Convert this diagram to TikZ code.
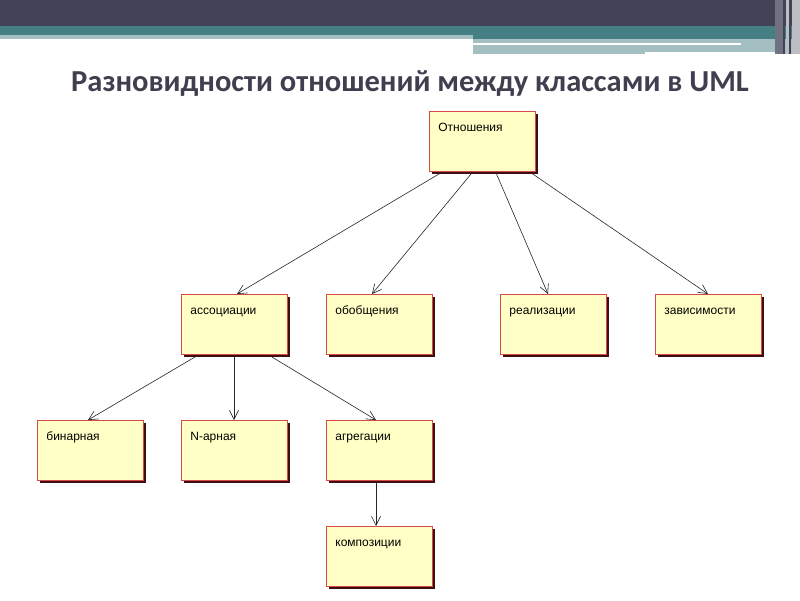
\documentclass[tikz,border=0pt]{standalone}
\usepackage{fontspec}
\setmainfont{Liberation Sans}
\newfontfamily\titlefont{Carlito}
\usetikzlibrary{arrows.meta,calc}
\definecolor{hdark}{HTML}{424357}
\definecolor{hteal}{HTML}{467F83}
\definecolor{hlight}{HTML}{A4BFC1}
\definecolor{boxfill}{HTML}{FFFFC6}
\definecolor{boxline}{HTML}{D84848}
\definecolor{boxshadow}{HTML}{3A1010}
\definecolor{titlec}{HTML}{3F3F50}
\tikzset{
  umlbox/.style={draw=boxline, line width=0.8pt, fill=boxfill, anchor=north west,
    text width=88pt, align=left, inner xsep=9pt, inner ysep=5pt,
    text height=15pt, text depth=35pt, font=\fontsize{12}{14}\selectfont,
    preaction={fill=boxshadow, transform canvas={shift={(3pt,-3pt)}}}},
  rel/.style={draw=black!85, line width=0.6pt, -{Straight Barb[length=9pt,width=9pt]}}
}
\begin{document}
\begin{tikzpicture}[x=1pt,y=-1pt]
\useasboundingbox (0,0) rectangle (800,600);
% header
\fill[white] (0,0) rectangle (800,600);
\fill[hdark] (0,0) rectangle (800,26);
\fill[hteal] (0,26) rectangle (800,35);
\fill[hteal] (473,35) rectangle (800,39);
\fill[hlight] (0,35) rectangle (473,39);
\fill[hlight] (473,39) rectangle (800,54);
\fill[white] (473,43) rectangle (741,45);
\fill[white] (645,52) rectangle (785,54);
\fill[hdark!75] (775,0) rectangle (783,54);
\fill[hdark] (783,0) rectangle (785,54);
\fill[hdark!35] (786,0) rectangle (789,54);
\fill[hdark] (789,0) rectangle (791,54);
\fill[hdark!35] (792,0) rectangle (800,54);
% title
\node[font=\titlefont\bfseries\fontsize{30.5}{34}\selectfont, text=titlec] (title) at (410,84) {Разновидности отношений между классами в UML};
% boxes
\node[umlbox] (otn) at (429,111) {Отношения};
\node[umlbox] (assoc) at (181,294) {ассоциации};
\node[umlbox] (obob) at (326,294) {обобщения};
\node[umlbox] (real) at (500,294) {реализации};
\node[umlbox] (zav) at (655,294) {зависимости};
\node[umlbox] (bin) at (37,420) {бинарная};
\node[umlbox] (narn) at (181,420) {N-арная};
\node[umlbox] (agr) at (326,420) {агрегации};
\node[umlbox] (komp) at (326,526) {композиции};
% connectors
\draw[rel] ($(otn.south west)+(12,1)$) -- ($(assoc.north west)+(56,0)$);
\draw[rel] ($(otn.south west)+(43,1)$) -- ($(obob.north west)+(46,0)$);
\draw[rel] ($(otn.south west)+(67,1)$) -- ($(real.north west)+(48,0)$);
\draw[rel] ($(otn.south west)+(102,1)$) -- ($(zav.north west)+(53,0)$);
\draw[rel] ($(assoc.south west)+(16,1)$) -- ($(bin.north west)+(51,0)$);
\draw[rel] ($(assoc.south west)+(53,1)$) -- ($(narn.north west)+(53,0)$);
\draw[rel] ($(assoc.south west)+(89,1)$) -- ($(agr.north west)+(50,0)$);
\draw[rel] ($(agr.south west)+(50,2)$) -- ($(komp.north west)+(50,0)$);
\end{tikzpicture}
\end{document}
